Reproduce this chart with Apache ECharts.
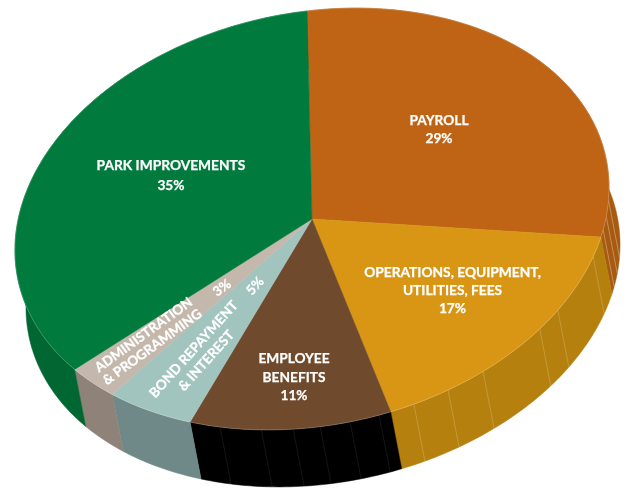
<!DOCTYPE html>
<html><head><meta charset="utf-8">
<script src="https://cdn.jsdelivr.net/npm/echarts@6/dist/echarts.min.js"></script>
<style>html,body{margin:0;padding:0;background:#fff}#c{width:628px;height:489px}</style>
</head><body><div id="c"></div>
<script>
const categories = ['PAYROLL','OPERATIONS, EQUIPMENT,\nUTILITIES, FEES','EMPLOYEE\nBENEFITS','BOND REPAYMENT\n& INTEREST','ADMINISTRATION\n& PROGRAMMING','PARK IMPROVEMENTS'];
const shares = [29,17,11,5,3,35];
const topColors = ['#BE6414','#D99615','#6F4A2C','#A2C4BE','#C4B8AC','#007A3D'];
const wallColors = ['#A85A10','#B5800D','#000000','#6E8987','#8E8279','#006733'];
const facetAlpha = [.45,.28,.12,0,0,0];
const facetAngles = [94.4,98.8,102.4,109.8,125.1,130.9,145.8,153.7,160.9,167.9,173.6,179.4,184.6,190.8,199];

const C = {x:312,y:219}, U = {x:297,y:-34.8}, V = {x:-5,y:-208}, D = {x:11,y:57};
const pt = (deg,dx,dy) => { const r = deg*Math.PI/180, s = Math.sin(r), c = Math.cos(r);
  return [C.x+U.x*s+V.x*c+(dx||0), C.y+U.y*s+V.y*c+(dy||0)]; };
const arc = (a,b,dx,dy) => { const n = Math.max(2,Math.ceil((b-a)/1)), o = [];
  for (let i=0;i<=n;i++) o.push(pt(a+(b-a)*i/n,dx,dy)); return o; };
const total = shares.reduce((a,b)=>a+b,0);
const starts = []; shares.reduce((acc,v,i)=>{starts[i]=acc; return acc+v;},0);
const toDeg = v => v/total*360;

const labelLayout = [
 {x:439,y:129.5,rot:0,lh:18.5,fs:13.7},
 {x:452.5,y:290.5,rot:0,lh:18,fs:13.75},
 {x:294,y:377.5,rot:0,lh:18.5,fs:13.7},
 {x:200,y:355,rot:48,lh:17,px:255,py:286,fs:13.6},
 {x:148,y:341,rot:36,lh:15,px:222,py:288,fs:13.5},
 {x:171,y:175.5,rot:0,lh:20,fs:13.75}
];
const font = {fontFamily:'Lato',fontWeight:700,fill:'#fff',stroke:'#fff',lineWidth:.25,align:'center',verticalAlign:'middle'};

function renderItem(params,api){
  const i = params.dataIndex, v = api.value(0), a = toDeg(starts[i]), b = a+toDeg(v);
  const topArc = arc(a,b), lowArc = arc(a,b,D.x,D.y).reverse();
  const kids = [
    {type:'polygon',z2:1,shape:{points:topArc.concat(lowArc)},style:{fill:wallColors[i],stroke:wallColors[i],lineWidth:.5}},
    {type:'polygon',z2:10,shape:{points:[[C.x,C.y]].concat(topArc)},style:{fill:topColors[i],stroke:topColors[i],lineWidth:.5}},
    {type:'polyline',z2:11,shape:{points:topArc},style:{fill:'none',stroke:'rgba(255,255,255,.3)',lineWidth:.6}}
  ];
  facetAngles.filter(t=>t>=a&&t<b).forEach(t=>{
    const p = pt(t), q = pt(t,D.x,D.y);
    kids.push({type:'line',z2:2,shape:{x1:p[0],y1:p[1],x2:q[0],y2:q[1]},
      style:{stroke:'rgba(255,255,255,'+facetAlpha[i]+')',lineWidth:.7}});
  });
  const L = labelLayout[i], pct = v+'%';
  if (L.rot){
    kids.push({type:'text',z2:20,x:L.x,y:L.y,rotation:L.rot*Math.PI/180,
      style:Object.assign({},font,{text:categories[i],lineHeight:L.lh,fontSize:L.fs})});
    kids.push({type:'text',z2:20,x:L.px,y:L.py,rotation:L.rot*Math.PI/180,
      style:Object.assign({},font,{text:pct,fontSize:L.fs})});
  } else {
    kids.push({type:'text',z2:20,x:L.x,y:L.y,
      style:Object.assign({},font,{text:categories[i]+'\n'+pct,lineHeight:L.lh,fontSize:L.fs})});
  }
  return {type:'group',children:kids};
}
const chart = echarts.init(document.getElementById('c'),null,{width:628,height:489});
chart.setOption({animation:false,backgroundColor:'#fff',
  series:[{type:'custom',coordinateSystem:'none',renderItem,data:shares.map(v=>[v]),silent:true}]});
</script></body></html>
